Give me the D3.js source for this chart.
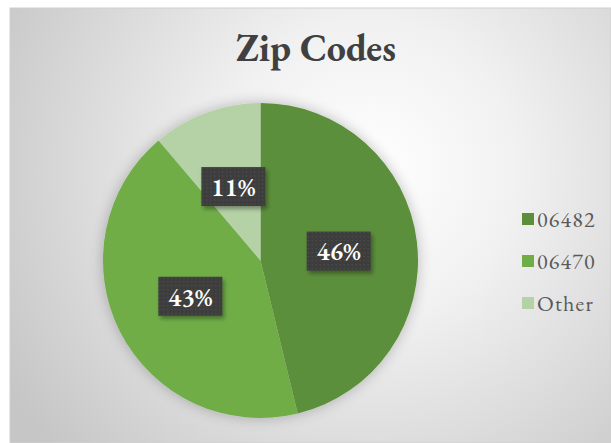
<!DOCTYPE html>
<html>
<head>
<meta charset="utf-8">
<script src="https://cdn.jsdelivr.net/npm/d3@7"></script>
<style>
  html, body { margin: 0; padding: 0; background: #fff; }
  #viz { width: 611px; height: 443px; }
</style>
</head>
<body>
<div id="viz"></div>
<script>
const categories = ['06482', '06470', 'Other'];
const shares = [46.2, 42.6, 11.2];
const labels = ['46%', '43%', '11%'];
const colors = ['#5b8f3a', '#70ad47', '#b5d2a6'];

const width = 611, height = 443;
const serif = "Garamond, 'EB Garamond', 'Liberation Serif', 'DejaVu Serif', serif";

const svg = d3.select('#viz').append('svg')
  .attr('width', width)
  .attr('height', height);

const defs = svg.append('defs');

// chart background: radial grey gradient
const bg = defs.append('radialGradient')
  .attr('id', 'bg')
  .attr('gradientUnits', 'userSpaceOnUse')
  .attr('cx', 370).attr('cy', 170).attr('r', 420);
bg.append('stop').attr('offset', '0%').attr('stop-color', '#ffffff');
bg.append('stop').attr('offset', '35%').attr('stop-color', '#f1f1f1');
bg.append('stop').attr('offset', '100%').attr('stop-color', '#c6c6c6');

// soft halo under the pie
const halo = defs.append('filter').attr('id', 'halo')
  .attr('x', '-20%').attr('y', '-20%').attr('width', '140%').attr('height', '140%');
halo.append('feGaussianBlur').attr('in', 'SourceAlpha').attr('stdDeviation', 7);
halo.append('feComponentTransfer').append('feFuncA').attr('type', 'linear').attr('slope', 0.25);
const hm = halo.append('feMerge');
hm.append('feMergeNode');
hm.append('feMergeNode').attr('in', 'SourceGraphic');

// label box shadow
const boxShadow = defs.append('filter').attr('id', 'boxShadow')
  .attr('x', '-20%').attr('y', '-20%').attr('width', '150%').attr('height', '160%');
boxShadow.append('feDropShadow')
  .attr('dx', 2).attr('dy', 3).attr('stdDeviation', 2)
  .attr('flood-color', '#000').attr('flood-opacity', 0.35);

// dotted fill for the label boxes
const dots = defs.append('pattern')
  .attr('id', 'dots')
  .attr('patternUnits', 'userSpaceOnUse')
  .attr('width', 4).attr('height', 4);
dots.append('rect').attr('width', 4).attr('height', 4).attr('fill', '#3d3d3d');
dots.append('rect').attr('x', 1).attr('y', 1).attr('width', 1).attr('height', 1).attr('fill', '#565656');

svg.append('rect')
  .attr('x', 10).attr('y', 8)
  .attr('width', width - 10).attr('height', height - 8)
  .attr('fill', 'url(#bg)')
  .attr('stroke', '#d0d0d0');

svg.append('text')
  .attr('x', 316).attr('y', 61)
  .attr('text-anchor', 'middle')
  .attr('font-family', serif)
  .attr('font-weight', 'bold')
  .attr('font-size', 38)
  .attr('fill', '#404040')
  .text('Zip Codes');

const cx = 260.5, cy = 260.5, radius = 157.5;

const pie = d3.pie().sort(null).value(d => d);
const arcs = pie(shares);
const arc = d3.arc().innerRadius(0).outerRadius(radius);

const g = svg.append('g').attr('transform', `translate(${cx},${cy})`);

g.append('g').attr('filter', 'url(#halo)')
  .selectAll('path')
  .data(arcs)
  .enter()
  .append('path')
  .attr('d', arc)
  .attr('fill', (d, i) => colors[i]);

// data labels at the arc centroid
const lbl = g.selectAll('.lbl')
  .data(arcs)
  .enter()
  .append('g')
  .attr('class', 'lbl')
  .attr('transform', d => `translate(${arc.centroid(d)})`);

lbl.append('rect')
  .attr('x', -32).attr('y', -19.5)
  .attr('width', 64).attr('height', 39)
  .attr('fill', 'url(#dots)')
  .attr('filter', 'url(#boxShadow)');

lbl.append('text')
  .attr('text-anchor', 'middle')
  .attr('dy', '0.36em')
  .attr('font-family', serif)
  .attr('font-weight', 600)
  .attr('font-size', 26)
  .attr('fill', '#ffffff')
  .text((d, i) => labels[i]);

// legend
const legend = svg.append('g').attr('transform', 'translate(522,219)');
const item = legend.selectAll('g')
  .data(categories)
  .enter()
  .append('g')
  .attr('transform', (d, i) => `translate(0,${i * 42})`);

item.append('rect')
  .attr('x', 0).attr('y', -6)
  .attr('width', 12).attr('height', 12)
  .attr('fill', (d, i) => colors[i]);

item.append('text')
  .attr('x', 15).attr('dy', '0.36em')
  .attr('font-family', serif)
  .attr('font-size', 22)
  .attr('letter-spacing', 1.2)
  .attr('fill', '#595959')
  .text(d => d);
</script>
</body>
</html>
